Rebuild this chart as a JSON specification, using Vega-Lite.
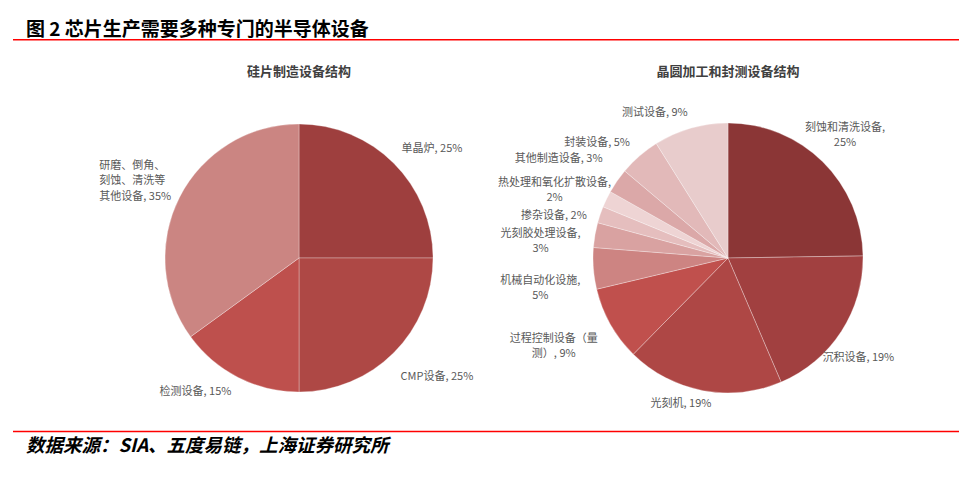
{
  "$schema": "https://vega.github.io/schema/vega-lite/v6.json",
  "background": "white",
  "padding": {"left": 13, "top": 20, "right": 0, "bottom": 0},
  "spacing": 10.7,
  "config": {
    "view": {"stroke": null},
    "font": "Noto Sans CJK SC",
    "title": {"font": "Noto Sans CJK SC", "frame": "group"},
    "text": {"baseline": "middle", "fontSize": 11, "color": "#595959", "lineBreak": "\n", "lineHeight": 15.5}
  },
  "vconcat": [
    {
      "spacing": 21,
      "vconcat": [
        {
          "width": 946,
          "height": 1.5,
          "view": {"fill": "#ff0000", "stroke": null},
          "title": {"text": "图 2 芯片生产需要多种专门的半导体设备", "anchor": "start", "frame": "group", "fontSize": 19, "fontWeight": "bold", "color": "#000000", "offset": -6, "dx": 13},
          "data": {"values": [{"t": ""}]},
          "mark": {"type": "text"},
          "encoding": {"text": {"field": "t"}}
        },
        {
          "bounds": "flush",
          "spacing": 0,
          "resolve": {"scale": {"color": "independent", "theta": "independent"}},
          "hconcat": [
            {
              "width": 572,
              "height": 312,
              "title": {"text": "硅片制造设备结构", "frame": "group", "fontSize": 13, "fontWeight": "bold", "color": "#404040", "offset": 23},
              "data": {"values": [
                {"i": 1, "name": "单晶炉", "v": 25, "label": "单晶炉, 25%"},
                {"i": 2, "name": "CMP设备", "v": 25, "label": "CMP设备, 25%"},
                {"i": 3, "name": "检测设备", "v": 15, "label": "检测设备, 15%"},
                {"i": 4, "name": "研磨、倒角、刻蚀、清洗等其他设备", "v": 35, "label": "研磨、倒角、\n刻蚀、清洗等\n其他设备, 35%"}
              ]},
              "transform": [
                {"stack": "v", "groupby": [], "sort": [{"field": "i", "order": "ascending"}], "offset": "normalize", "as": ["s0", "s1"]},
                {"calculate": "(datum.s0 + datum.s1) / 2", "as": "mid"}
              ],
              "layer": [
                {
                  "mark": {"type": "arc", "radius": 134, "stroke": "#ffffff", "strokeWidth": 0.6, "strokeOpacity": 0.5},
                  "encoding": {
                    "theta": {"field": "s0", "type": "quantitative", "scale": {"domain": [0, 1], "nice": false, "zero": true}},
                    "theta2": {"field": "s1"},
                    "color": {"field": "name", "type": "nominal", "legend": null,
                      "scale": {"domain": ["单晶炉", "CMP设备", "检测设备", "研磨、倒角、刻蚀、清洗等其他设备"],
                                "range": ["#9e3f3e", "#ae4845", "#be504d", "#cb8582"]}}
                  }
                },
                {
                  "transform": [{"filter": {"field": "name", "oneOf": ["单晶炉"]}}],
                  "mark": {"type": "text", "radius": 172, "thetaOffset": 0.098, "align": "center"},
                  "encoding": {
                    "theta": {"field": "mid", "type": "quantitative", "stack": null, "scale": {"domain": [0, 1], "nice": false, "zero": true}},
                    "text": {"field": "label"}
                  }
                },
                {
                  "transform": [{"filter": {"field": "name", "oneOf": ["检测设备"]}}],
                  "mark": {"type": "text", "radius": 169, "thetaOffset": 0.188, "align": "center"},
                  "encoding": {
                    "theta": {"field": "mid", "type": "quantitative", "stack": null, "scale": {"domain": [0, 1], "nice": false, "zero": true}},
                    "text": {"field": "label"}
                  }
                },
                {
                  "transform": [{"filter": {"field": "name", "oneOf": ["CMP设备"]}}],
                  "mark": {"type": "text", "radius": 182, "thetaOffset": -0.075, "align": "center"},
                  "encoding": {
                    "theta": {"field": "mid", "type": "quantitative", "stack": null, "scale": {"domain": [0, 1], "nice": false, "zero": true}},
                    "text": {"field": "label"}
                  }
                },
                {
                  "transform": [{"filter": {"field": "name", "oneOf": ["研磨、倒角、刻蚀、清洗等其他设备"]}}],
                  "mark": {"type": "text", "radius": 220, "thetaOffset": -0.038, "align": "left"},
                  "encoding": {
                    "theta": {"field": "mid", "type": "quantitative", "stack": null, "scale": {"domain": [0, 1], "nice": false, "zero": true}},
                    "text": {"field": "label"}
                  }
                }
              ]
            },
            {
              "width": 286,
              "height": 312,
              "title": {"text": "晶圆加工和封测设备结构", "frame": "group", "fontSize": 13, "fontWeight": "bold", "color": "#404040", "offset": 23},
              "data": {"values": [
                {"i": 1, "name": "刻蚀和清洗设备", "v": 25, "label": "刻蚀和清洗设备,\n25%"},
                {"i": 2, "name": "沉积设备", "v": 19, "label": "沉积设备, 19%"},
                {"i": 3, "name": "光刻机", "v": 19, "label": "光刻机, 19%"},
                {"i": 4, "name": "过程控制设备（量测）", "v": 9, "label": "过程控制设备（量\n测）, 9%"},
                {"i": 5, "name": "机械自动化设施", "v": 5, "label": "机械自动化设施,\n5%"},
                {"i": 6, "name": "光刻胶处理设备", "v": 3, "label": "光刻胶处理设备,\n3%"},
                {"i": 7, "name": "掺杂设备", "v": 2, "label": "掺杂设备, 2%"},
                {"i": 8, "name": "热处理和氧化扩散设备", "v": 2, "label": "热处理和氧化扩散设备,\n2%"},
                {"i": 9, "name": "其他制造设备", "v": 3, "label": "其他制造设备, 3%"},
                {"i": 10, "name": "封装设备", "v": 5, "label": "封装设备, 5%"},
                {"i": 11, "name": "测试设备", "v": 9, "label": "测试设备, 9%"}
              ]},
              "transform": [
                {"stack": "v", "groupby": [], "sort": [{"field": "i", "order": "ascending"}], "offset": "normalize", "as": ["s0", "s1"]},
                {"calculate": "(datum.s0 + datum.s1) / 2", "as": "mid"}
              ],
              "layer": [
                {
                  "mark": {"type": "arc", "radius": 135, "stroke": "#ffffff", "strokeWidth": 0.6, "strokeOpacity": 0.5},
                  "encoding": {
                    "theta": {"field": "s0", "type": "quantitative", "scale": {"domain": [0, 1], "nice": false, "zero": true}},
                    "theta2": {"field": "s1"},
                    "color": {"field": "name", "type": "nominal", "legend": null,
                      "scale": {"domain": ["刻蚀和清洗设备", "沉积设备", "光刻机", "过程控制设备（量测）", "机械自动化设施", "光刻胶处理设备", "掺杂设备", "热处理和氧化扩散设备", "其他制造设备", "封装设备", "测试设备"],
                                "range": ["#8b3636", "#a14040", "#ae4745", "#c0504d", "#cd8482", "#d9a2a1", "#e5bebe", "#eed4d4", "#dba8a8", "#e2b9b9", "#e8cccc"]}}
                  }
                },
                {
                  "transform": [{"filter": {"field": "name", "oneOf": ["刻蚀和清洗设备"]}}],
                  "mark": {"type": "text", "radius": 175, "thetaOffset": -0.045, "align": "center"},
                  "encoding": {
                    "theta": {"field": "mid", "type": "quantitative", "stack": null, "scale": {"domain": [0, 1], "nice": false, "zero": true}},
                    "text": {"field": "label"}
                  }
                },
                {
                  "transform": [{"filter": {"field": "name", "oneOf": ["沉积设备"]}}],
                  "mark": {"type": "text", "radius": 164, "thetaOffset": 0.077, "align": "center"},
                  "encoding": {
                    "theta": {"field": "mid", "type": "quantitative", "stack": null, "scale": {"domain": [0, 1], "nice": false, "zero": true}},
                    "text": {"field": "label"}
                  }
                },
                {
                  "transform": [{"filter": {"field": "name", "oneOf": ["光刻机"]}}],
                  "mark": {"type": "text", "radius": 153, "thetaOffset": 0.126, "align": "center"},
                  "encoding": {
                    "theta": {"field": "mid", "type": "quantitative", "stack": null, "scale": {"domain": [0, 1], "nice": false, "zero": true}},
                    "text": {"field": "label"}
                  }
                },
                {
                  "transform": [{"filter": {"field": "name", "oneOf": ["过程控制设备（量测）"]}}],
                  "mark": {"type": "text", "radius": 192, "thetaOffset": 0.08, "align": "center"},
                  "encoding": {
                    "theta": {"field": "mid", "type": "quantitative", "stack": null, "scale": {"domain": [0, 1], "nice": false, "zero": true}},
                    "text": {"field": "label"}
                  }
                },
                {
                  "transform": [{"filter": {"field": "name", "oneOf": ["机械自动化设施", "光刻胶处理设备", "热处理和氧化扩散设备"]}}],
                  "mark": {"type": "text", "radius": 189, "thetaOffset": -0.042, "align": "center"},
                  "encoding": {
                    "theta": {"field": "mid", "type": "quantitative", "stack": null, "scale": {"domain": [0, 1], "nice": false, "zero": true}},
                    "text": {"field": "label"}
                  }
                },
                {
                  "transform": [{"filter": {"field": "name", "oneOf": ["掺杂设备"]}}],
                  "mark": {"type": "text", "radius": 179, "thetaOffset": -0.0925, "align": "center"},
                  "encoding": {
                    "theta": {"field": "mid", "type": "quantitative", "stack": null, "scale": {"domain": [0, 1], "nice": false, "zero": true}},
                    "text": {"field": "label"}
                  }
                },
                {
                  "transform": [{"filter": {"field": "name", "oneOf": ["其他制造设备"]}}],
                  "mark": {"type": "text", "radius": 196, "thetaOffset": -0.0785, "align": "center"},
                  "encoding": {
                    "theta": {"field": "mid", "type": "quantitative", "stack": null, "scale": {"domain": [0, 1], "nice": false, "zero": true}},
                    "text": {"field": "label"}
                  }
                },
                {
                  "transform": [{"filter": {"field": "name", "oneOf": ["封装设备"]}}],
                  "mark": {"type": "text", "radius": 174, "thetaOffset": -0.136, "align": "center"},
                  "encoding": {
                    "theta": {"field": "mid", "type": "quantitative", "stack": null, "scale": {"domain": [0, 1], "nice": false, "zero": true}},
                    "text": {"field": "label"}
                  }
                },
                {
                  "transform": [{"filter": {"field": "name", "oneOf": ["测试设备"]}}],
                  "mark": {"type": "text", "radius": 162, "thetaOffset": -0.1885, "align": "center"},
                  "encoding": {
                    "theta": {"field": "mid", "type": "quantitative", "stack": null, "scale": {"domain": [0, 1], "nice": false, "zero": true}},
                    "text": {"field": "label"}
                  }
                }
              ]
            }
          ]
        }
      ]
    },
    {
      "width": 946,
      "height": 1.5,
      "view": {"fill": "#ff0000", "stroke": null},
      "title": {"text": "数据来源：SIA、五度易链，上海证券研究所", "orient": "bottom", "anchor": "start", "frame": "group", "fontSize": 18.5, "fontWeight": "bold", "fontStyle": "italic", "color": "#000000", "offset": 1, "dx": 13},
      "data": {"values": [{"t": ""}]},
      "mark": {"type": "text"},
      "encoding": {"text": {"field": "t"}}
    }
  ]
}
